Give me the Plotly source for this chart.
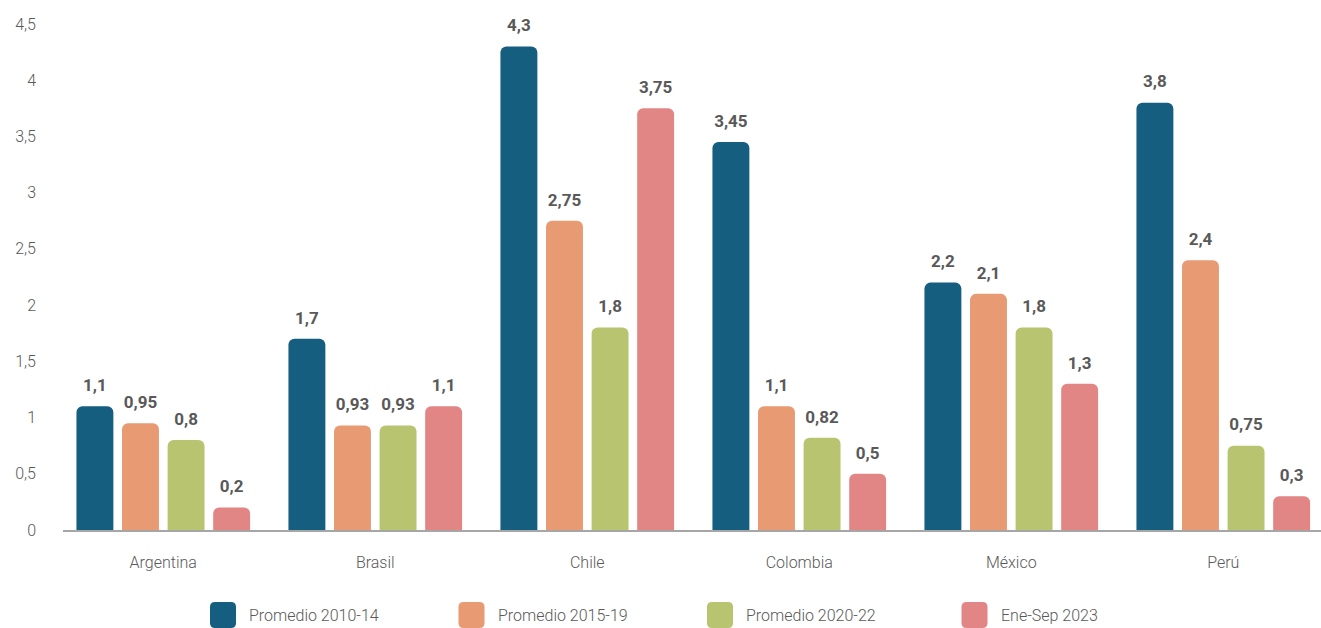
import plotly.graph_objects as go

categories = ["Argentina", "Brasil", "Chile", "Colombia", "México", "Perú"]
series_names = ["Promedio 2010-14", "Promedio 2015-19", "Promedio 2020-22", "Ene-Sep 2023"]
v_2010_14 = [1.1, 1.7, 4.3, 3.45, 2.2, 3.8]
v_2015_19 = [0.95, 0.93, 2.75, 1.1, 2.1, 2.4]
v_2020_22 = [0.8, 0.93, 1.8, 0.82, 1.8, 0.75]
v_2023 = [0.2, 1.1, 3.75, 0.5, 1.3, 0.3]
series_values = [v_2010_14, v_2015_19, v_2020_22, v_2023]
colors = ["#165E80", "#E89A72", "#B8C46F", "#E28585"]
y_ticks = [0, 0.5, 1, 1.5, 2, 2.5, 3, 3.5, 4, 4.5]


def fmt(v):
    s = ("%.2f" % v).rstrip("0").rstrip(".")
    return s.replace(".", ",")


FONT = "Roboto"
GRAY = "#595959"

fig = go.Figure()
for name, vals, col in zip(series_names, series_values, colors):
    fig.add_trace(go.Bar(
        name=name, x=categories, y=vals,
        marker=dict(color=col, cornerradius=6, line=dict(width=0)),
        showlegend=False, hoverinfo="x+y",
    ))
for name, vals in zip(series_names, series_values):
    fig.add_trace(go.Scatter(
        x=categories, y=vals, mode="markers+text",
        text=[fmt(v) for v in vals], textposition="top center",
        textfont=dict(family=FONT, size=17, color=GRAY, weight="bold"),
        marker=dict(size=16, opacity=0), showlegend=False,
        hoverinfo="skip", cliponaxis=False,
    ))

W, H = 1321, 628
ML, MR, MT, MB = 63, 0, 24, 98
pw = W - ML - MR
ph = H - MT - MB

# custom legend (rounded squares + labels)
legend_px = [223, 471.5, 720, 974.5]
legend_y = (H - MB - 615) / ph
half, r = 13, 5
path = (f"M {-half + r},{-half} L {half - r},{-half} Q {half},{-half} {half},{-half + r} "
        f"L {half},{half - r} Q {half},{half} {half - r},{half} L {-half + r},{half} "
        f"Q {-half},{half} {-half},{half - r} L {-half},{-half + r} Q {-half},{-half} {-half + r},{-half} Z")
shapes, annotations = [], []
for name, col, px in zip(series_names, colors, legend_px):
    xp = (px - ML) / pw
    shapes.append(dict(type="path", xref="paper", yref="paper", xsizemode="pixel", ysizemode="pixel",
                       xanchor=xp, yanchor=legend_y, path=path, fillcolor=col, line=dict(width=0),
                       layer="above"))
    annotations.append(dict(xref="paper", yref="paper", x=xp, y=legend_y, xshift=half + 11,
                            text=name, showarrow=False, xanchor="left", yanchor="middle",
                            font=dict(family=FONT, size=16, color=GRAY, weight=300)))

fig.update_layout(
    width=W, height=H,
    margin=dict(l=ML, r=MR, t=MT, b=MB),
    paper_bgcolor="white", plot_bgcolor="white",
    barmode="group", bargap=0.14, bargroupgap=0.19,
    scattermode="group", scattergap=0.14,
    font=dict(family=FONT, size=16, color=GRAY),
    shapes=shapes, annotations=annotations,
    showlegend=False,
    xaxis=dict(range=[-0.473, 5.461], showline=True, linecolor="#A6A6A6", linewidth=1.5,
               showgrid=False, ticks="", ticklabelstandoff=17,
               tickfont=dict(family=FONT, size=16, color=GRAY, weight=300)),
    yaxis=dict(range=[0, 4.5], tickvals=y_ticks, ticktext=[fmt(v) for v in y_ticks],
               showgrid=False, zeroline=False, showline=False, ticks="",
               ticklabelstandoff=26, tickfont=dict(family=FONT, size=16, color=GRAY, weight=300)),
)

fig.write_html("out.html", config={"displayModeBar": False},
               post_script="document.body.style.margin='0';document.body.style.overflow='hidden';")
